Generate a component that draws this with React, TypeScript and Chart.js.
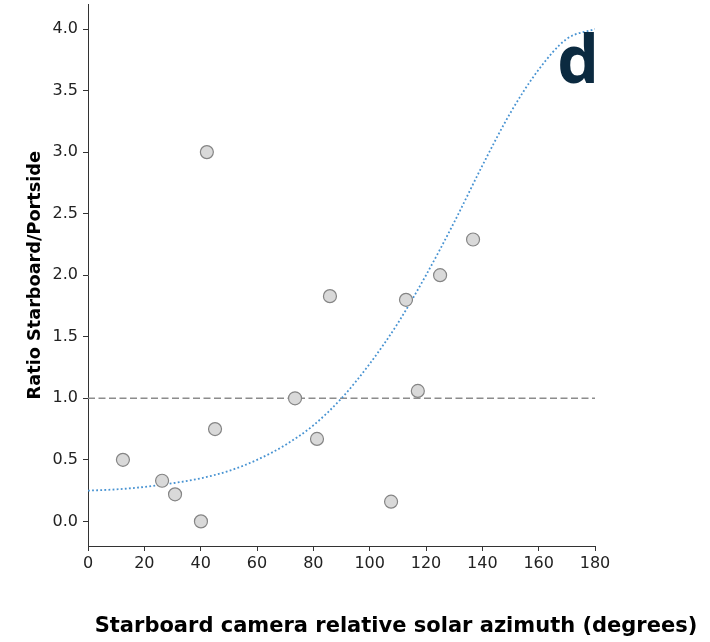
import React, { useEffect, useRef } from "react";
import { Chart, registerables } from "chart.js";

Chart.register(...registerables);

// Observed points: relative azimuth (deg) vs ratio starboard/portside
const obsAzimuth = [12.4, 26.3, 30.9, 40.1, 42.2, 45.1, 73.5, 81.3, 85.9, 107.6, 112.9, 117.1, 125.0, 136.7];
const obsRatio = [0.50, 0.33, 0.22, 0.00, 3.00, 0.75, 1.00, 0.67, 1.83, 0.16, 1.80, 1.06, 2.00, 2.29];

// Fitted curve
const fitAzimuth = [0, 10, 20, 30, 40, 50, 60, 70, 80, 90, 100, 110, 120, 130, 140, 150, 160, 170, 180];
const fitRatio = [0.25, 0.26, 0.28, 0.31, 0.35, 0.41, 0.50, 0.62, 0.78, 1.00, 1.28, 1.61, 2.00, 2.43, 2.89, 3.32, 3.67, 3.92, 4.00];

// Reference line
const refAzimuth = [0, 180];
const refRatio = [1, 1];

const xTicks = [0, 20, 40, 60, 80, 100, 120, 140, 160, 180];
const yTicks = [0, 0.5, 1.0, 1.5, 2.0, 2.5, 3.0, 3.5, 4.0];

const xTitle = "Starboard camera relative solar azimuth (degrees)";
const yTitle = "Ratio Starboard/Portside";
const panelLabel = "d";

const toPoints = (xs: number[], ys: number[]) => xs.map((x, i) => ({ x, y: ys[i] }));

const textPlugin = {
  id: "extraText",
  afterDraw(chart: any) {
    const ctx = chart.ctx;
    ctx.save();
    ctx.fillStyle = "#000";
    ctx.font = "bold 21px 'DejaVu Sans'";
    ctx.textAlign = "center";
    ctx.textBaseline = "alphabetic";
    ctx.fillText(xTitle, 396, 632);
    ctx.fillStyle = "#0b2a40";
    ctx.font = "bold 66px 'Noto Sans'";
    ctx.textAlign = "left";
    ctx.fillText(panelLabel, 557, 83);
    ctx.restore();
  },
};

export default function App() {
  const ref = useRef<HTMLCanvasElement | null>(null);
  useEffect(() => {
    if (!ref.current) return;
    Chart.defaults.font.family = "'DejaVu Sans'";
    const axisColor = "#333";
    const chart = new Chart(ref.current, {
      type: "scatter",
      data: {
        datasets: [
          {
            label: "ref",
            data: toPoints(refAzimuth, refRatio),
            showLine: true,
            borderColor: "#8c8c8c",
            borderWidth: 1.5,
            borderDash: [7, 3.5],
            pointRadius: 0,
            order: 3,
          },
          {
            label: "fit",
            data: toPoints(fitAzimuth, fitRatio),
            showLine: true,
            borderColor: "#4893d2",
            borderWidth: 1.8,
            borderDash: [1.8, 2.3],
            cubicInterpolationMode: "monotone",
            pointRadius: 0,
            order: 2,
          },
          {
            label: "obs",
            data: toPoints(obsAzimuth, obsRatio),
            backgroundColor: "#d9d9d9",
            borderColor: "#858585",
            borderWidth: 1.2,
            pointRadius: 6.5,
            order: 1,
          },
        ],
      },
      options: {
        animation: false,
        responsive: false,
        layout: { autoPadding: false, padding: { left: 0, top: 4.4, right: 115, bottom: 0 } },
        plugins: { legend: { display: false }, tooltip: { enabled: false } },
        scales: {
          x: {
            type: "linear",
            min: 0,
            max: 180,
            afterFit: (s: any) => { s.height = 96; },
            afterBuildTicks: (s: any) => { s.ticks = xTicks.map((v) => ({ value: v })); },
            grid: { drawOnChartArea: false, drawTicks: true, tickLength: 5, color: axisColor },
            border: { display: true, color: axisColor, width: 1 },
            ticks: { color: "#222", font: { size: 16 }, padding: 3, maxRotation: 0 },
          },
          y: {
            type: "linear",
            min: -0.2,
            max: 4.2,
            afterFit: (s: any) => { s.width = 88; s.paddingTop = 0; s.paddingBottom = 0; },
            afterBuildTicks: (s: any) => { s.ticks = yTicks.map((v) => ({ value: v })); },
            grid: { drawOnChartArea: false, drawTicks: true, tickLength: 5, color: axisColor },
            border: { display: true, color: axisColor, width: 1 },
            ticks: {
              color: "#222",
              font: { size: 16 },
              padding: 5,
              callback: (v: any) => Number(v).toFixed(1),
            },
            title: {
              display: true,
              text: yTitle,
              color: "#000",
              font: { size: 17.7, weight: "bold" },
              padding: { top: 25, bottom: 0 },
            },
          },
        },
      },
      plugins: [textPlugin],
    });
    return () => chart.destroy();
  }, []);
  return (
    <div style={{ position: "fixed", left: 0, top: 0, width: 710, height: 642, background: "#fff" }}>
      <canvas ref={ref} width={710} height={642} style={{ width: 710, height: 642, display: "block" }} />
    </div>
  );
}
